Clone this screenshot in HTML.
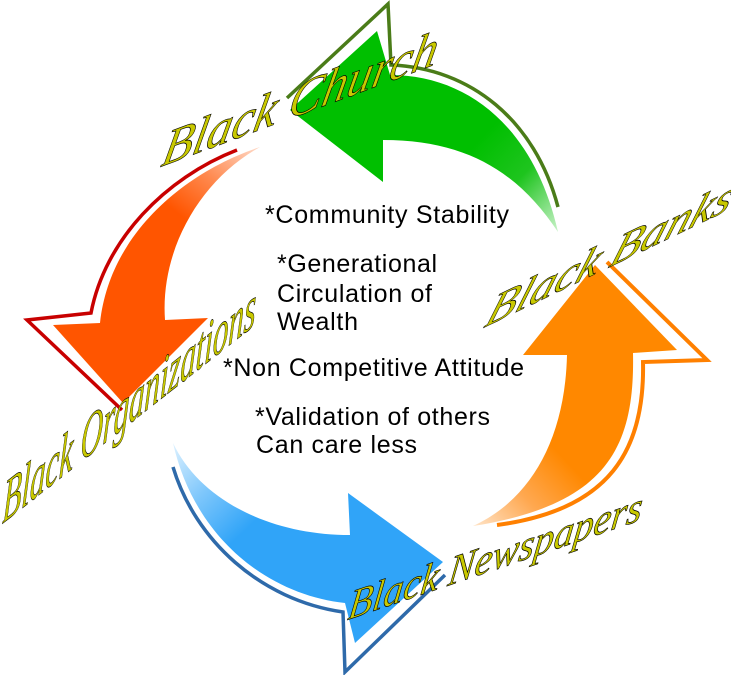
<!DOCTYPE html>
<html>
<head>
<meta charset="utf-8">
<style>
  html, body { margin: 0; padding: 0; background: #ffffff; }
  body { width: 731px; height: 675px; overflow: hidden; }
  svg { display: block; }
</style>
</head>
<body>
<svg width="731" height="675" viewBox="0 0 731 675" xmlns="http://www.w3.org/2000/svg">
  <defs>
    <linearGradient id="gGreen" gradientUnits="userSpaceOnUse" x1="470" y1="150" x2="560" y2="235">
      <stop offset="0" stop-color="#00bf00"/>
      <stop offset="0.45" stop-color="#1ec41e"/>
      <stop offset="1" stop-color="#d2f5d2"/>
    </linearGradient>
    <linearGradient id="gRed" gradientUnits="userSpaceOnUse" x1="255" y1="150" x2="170" y2="260">
      <stop offset="0" stop-color="#ffd2bc"/>
      <stop offset="0.35" stop-color="#ff8a50"/>
      <stop offset="0.7" stop-color="#ff5500"/>
      <stop offset="1" stop-color="#ff5500"/>
    </linearGradient>
    <linearGradient id="gBlue" gradientUnits="userSpaceOnUse" x1="175" y1="445" x2="270" y2="545">
      <stop offset="0" stop-color="#d8efff"/>
      <stop offset="0.4" stop-color="#7cc6fb"/>
      <stop offset="0.8" stop-color="#30a4f8"/>
      <stop offset="1" stop-color="#30a4f8"/>
    </linearGradient>
    <linearGradient id="gOrange" gradientUnits="userSpaceOnUse" x1="475" y1="525" x2="575" y2="430">
      <stop offset="0" stop-color="#ffe2c4"/>
      <stop offset="0.4" stop-color="#ffa850"/>
      <stop offset="0.8" stop-color="#ff8800"/>
      <stop offset="1" stop-color="#ff8800"/>
    </linearGradient>
  </defs>

  <!-- Green arrow (top) -->
  <path d="M290,110 L377,31 L390,75 C470,75 535,130 558,232 C520,175 470,140 383,140 L383,182 Z" fill="url(#gGreen)"/>
  <path d="M287,98 L388,4 L391,65 C470,68 535,120 558,207" fill="none" stroke="#4a7c18" stroke-width="3.5" stroke-linejoin="miter"/>

  <!-- Red/orange arrow (left) -->
  <path d="M260,147 C190,170 110,230 100,323 L53,325 L123,403 L208,318 L165,320 C160,250 200,180 260,147 Z" fill="url(#gRed)"/>
  <path d="M237,150 C165,178 105,240 91,313 L27,320 L122,410" fill="none" stroke="#c80000" stroke-width="3.5"/>

  <!-- Blue arrow (bottom) -->
  <path d="M173,443 C200,500 270,535 350,535 L348,493 L443,562 L355,643 L345,603 C270,595 195,540 173,443 Z" fill="url(#gBlue)"/>
  <path d="M173,467 C195,540 260,600 343,612 L345,672 L445,575" fill="none" stroke="#2e6aaa" stroke-width="3.5"/>

  <!-- Orange arrow (right) -->
  <path d="M595,265 L677,350 L633,353 C635,450 605,505 473,526 C530,500 565,440 567,355 L523,355 Z" fill="url(#gOrange)"/>
  <path d="M607,262 L707,360 L643,362 C645,450 610,510 497,525" fill="none" stroke="#ff8000" stroke-width="4"/>

  <!-- Center text -->
  <g font-family="'Liberation Sans', Arial, sans-serif" font-size="25" fill="#000">
    <text x="265" y="223" textLength="244" lengthAdjust="spacing">*Community Stability</text>
    <text x="277" y="272" textLength="160" lengthAdjust="spacing">*Generational</text>
    <text x="277" y="302" textLength="155" lengthAdjust="spacing">Circulation of</text>
    <text x="277" y="330" textLength="81" lengthAdjust="spacing">Wealth</text>
    <text x="223" y="376" textLength="301" lengthAdjust="spacing">*Non Competitive Attitude</text>
    <text x="255" y="425" textLength="235" lengthAdjust="spacing">*Validation of others</text>
    <text x="256" y="453" textLength="161" lengthAdjust="spacing">Can care less</text>
  </g>

  <!-- Yellow labels -->
  <g font-family="'Liberation Serif', 'Times New Roman', serif" font-style="italic" fill="#c8c800" stroke="#000" stroke-width="0.7">
    <text transform="matrix(0.937,-0.349,-0.213,1,160,167)" x="0" y="0" font-size="53" textLength="293" lengthAdjust="spacingAndGlyphs">Black Church</text>
    <text transform="matrix(0.901,-0.434,-0.364,1,483,328)" x="0" y="0" font-size="48" textLength="272" lengthAdjust="spacingAndGlyphs">Black Banks</text>
    <text transform="matrix(0.786,-0.618,-0.052,1,2,524)" x="0" y="0" font-size="62" textLength="322" lengthAdjust="spacingAndGlyphs">Black Organizations</text>
    <text transform="matrix(0.947,-0.322,-0.14,1,347,620)" x="0" y="0" font-size="43" textLength="310" lengthAdjust="spacingAndGlyphs">Black Newspapers</text>
  </g>
</svg>
</body>
</html>
